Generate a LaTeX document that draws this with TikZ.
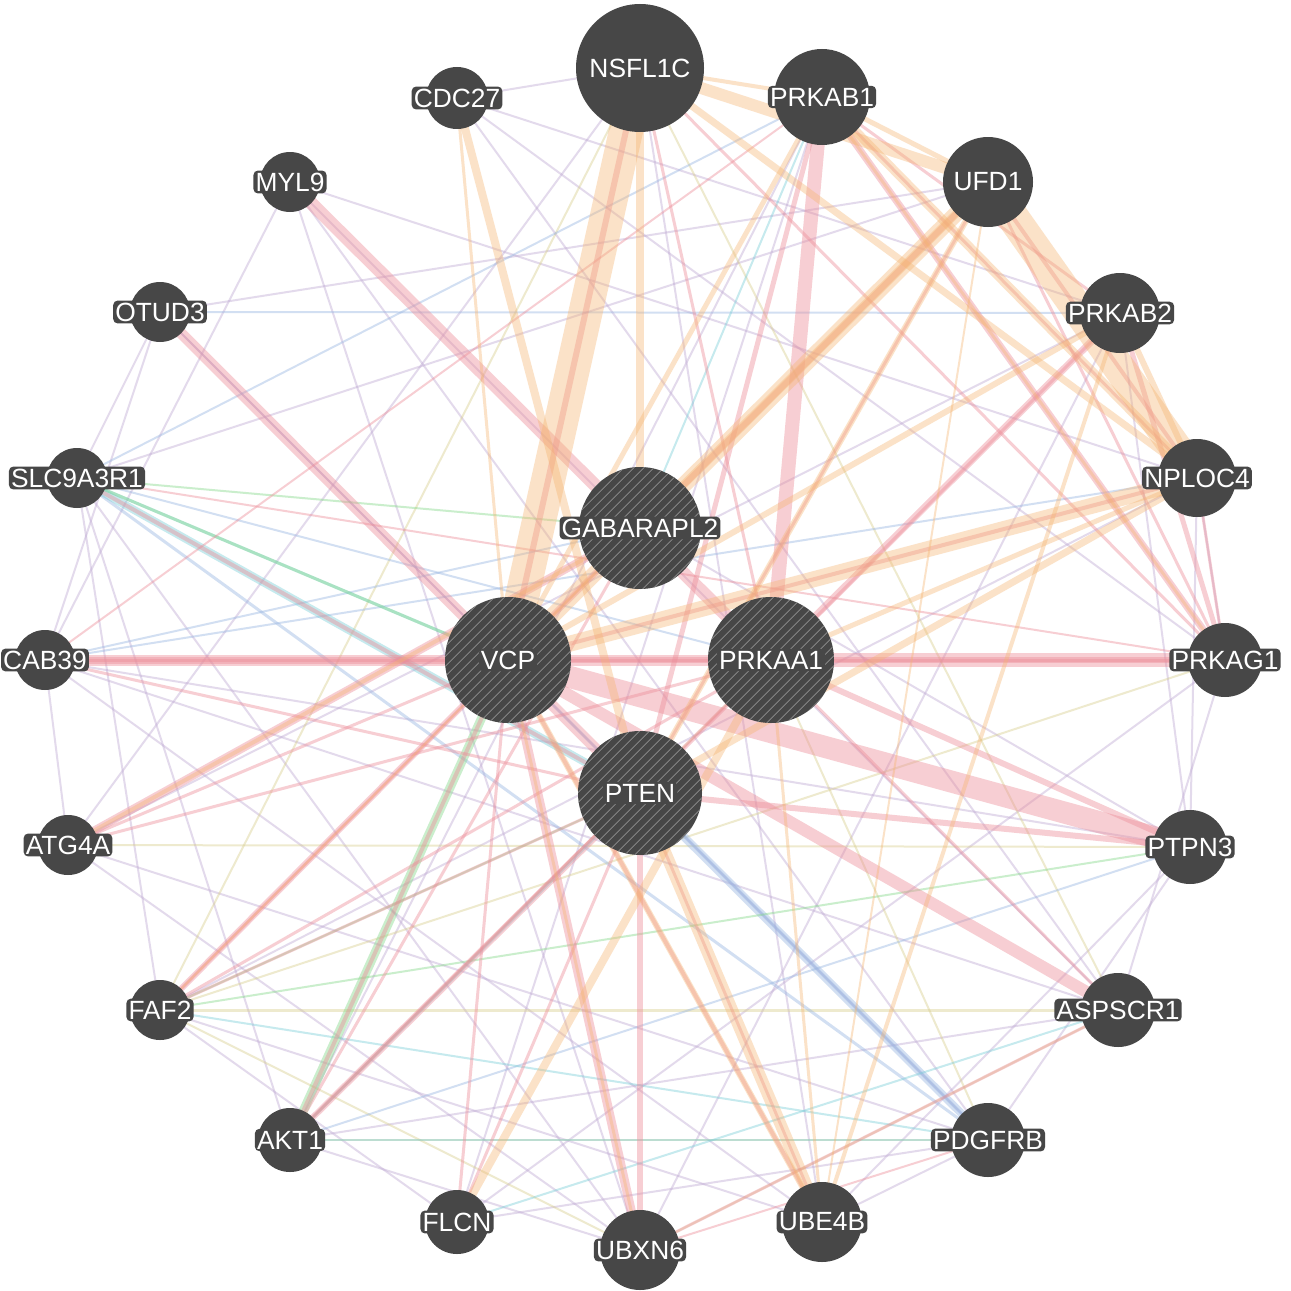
\documentclass[tikz,border=0pt]{standalone}
\usepackage{fontspec}
\setmainfont{Liberation Sans}
\usetikzlibrary{patterns.meta}
\pgfdeclarelayer{bg}
\pgfdeclarelayer{edges}
\pgfsetlayers{bg,edges,main}
\definecolor{ngray}{RGB}{71,71,71}
\definecolor{hatchc}{RGB}{125,125,125}
\definecolor{cphys}{RGB}{236,140,152}
\definecolor{cpred}{RGB}{245,180,112}
\definecolor{ccoex}{RGB}{190,168,210}
\definecolor{ccoloc}{RGB}{150,180,225}
\definecolor{cgen}{RGB}{130,215,135}
\definecolor{cpath}{RGB}{120,205,215}
\definecolor{cdom}{RGB}{215,205,140}
\begin{document}
\begin{tikzpicture}[x=0.02cm,y=-0.02cm,
  gene/.style={circle, fill=ngray, minimum size=#1*0.02cm, inner sep=0pt},
  hub/.style={gene=#1, postaction={pattern={Lines[angle=45,distance=4pt,line width=0.6pt]}, pattern color=hatchc}},
  lab/.style={text=white, fill=ngray, rounded corners=2.5pt, inner sep=1.2pt, font=\fontsize{15}{17}\selectfont},
  phys/.style={draw=cphys, line width=#1*0.02cm, draw opacity=0.42},
  pred/.style={draw=cpred, line width=#1*0.02cm, draw opacity=0.38},
  coex/.style={draw=ccoex, line width=#1*0.02cm, draw opacity=0.42},
  coloc/.style={draw=ccoloc, line width=#1*0.02cm, draw opacity=0.42},
  gen/.style={draw=cgen, line width=#1*0.02cm, draw opacity=0.42},
  path/.style={draw=cpath, line width=#1*0.02cm, draw opacity=0.42},
  dom/.style={draw=cdom, line width=#1*0.02cm, draw opacity=0.42},
]
\useasboundingbox (0,0) rectangle (1291,1291);
\begin{pgfonlayer}{bg}
\fill[white] (0,0) rectangle (1291,1291);
\end{pgfonlayer}

% nodes
\node[gene=128] (NSFL1C) at (640,68) {};
\node[gene=62]  (CDC27) at (457,98) {};
\node[gene=96]  (PRKAB1) at (822,97) {};
\node[gene=60]  (MYL9) at (290,182) {};
\node[gene=90]  (UFD1) at (988,182) {};
\node[gene=60]  (OTUD3) at (160,312) {};
\node[gene=80]  (PRKAB2) at (1120,313) {};
\node[gene=60]  (SLC9A3R1) at (77,478) {};
\node[gene=78]  (NPLOC4) at (1197,478) {};
\node[hub=122]  (GABARAPL2) at (640,528) {};
\node[hub=126]  (VCP) at (508,660) {};
\node[hub=126]  (PRKAA1) at (771,660) {};
\node[gene=60]  (CAB39) at (45,660) {};
\node[gene=74]  (PRKAG1) at (1225,660) {};
\node[hub=124]  (PTEN) at (640,793) {};
\node[gene=60]  (ATG4A) at (68,845) {};
\node[gene=74]  (PTPN3) at (1190,847) {};
\node[gene=60]  (FAF2) at (160,1010) {};
\node[gene=74]  (ASPSCR1) at (1118,1010) {};
\node[gene=64]  (AKT1) at (290,1140) {};
\node[gene=74]  (PDGFRB) at (988,1140) {};
\node[gene=64]  (FLCN) at (457,1222) {};
\node[gene=80]  (UBXN6) at (640,1250) {};
\node[gene=80]  (UBE4B) at (822,1222) {};

% labels
\foreach \n in {NSFL1C,CDC27,PRKAB1,MYL9,UFD1,OTUD3,PRKAB2,SLC9A3R1,NPLOC4,GABARAPL2,VCP,PRKAA1,CAB39,PRKAG1,PTEN,ATG4A,PTPN3,FAF2,ASPSCR1,AKT1,PDGFRB,FLCN,UBXN6,UBE4B}
  \node[lab] (lab-\n) at (\n) {\n};

\begin{pgfonlayer}{edges}
% co-expression (thin)
\foreach \a/\b/\w in {OTUD3/UFD1/2, OTUD3/SLC9A3R1/2, OTUD3/CAB39/2, CDC27/NSFL1C/2, CDC27/PRKAB2/2,
  MYL9/PDGFRB/2, MYL9/UBXN6/2, SLC9A3R1/FAF2/2, SLC9A3R1/AKT1/2, CAB39/ASPSCR1/2, CAB39/UBE4B/2,
  ATG4A/PDGFRB/2, FAF2/UBE4B/2, AKT1/ASPSCR1/2, FLCN/PRKAG1/2, FLCN/PDGFRB/2, UBXN6/PRKAB2/2,
  PTPN3/PDGFRB/2, ASPSCR1/PRKAG1/2, NPLOC4/PTPN3/2, PRKAB2/PTPN3/2, ATG4A/CAB39/2, OTUD3/VCP/2,
  MYL9/NPLOC4/2, CDC27/ASPSCR1/2, GABARAPL2/PTPN3/2, NSFL1C/ATG4A/2, SLC9A3R1/UFD1/2, MYL9/CAB39/2,
  ATG4A/UBXN6/2, FAF2/FLCN/2, AKT1/UBXN6/2, PDGFRB/UBE4B/2, PTPN3/UBE4B/2, NPLOC4/PRKAG1/2,
  CDC27/PRKAG1/2, MYL9/ASPSCR1/2, OTUD3/PDGFRB/2, SLC9A3R1/UBXN6/2, ATG4A/PRKAB2/2, FAF2/NPLOC4/2,
  AKT1/PRKAB1/2, FLCN/PRKAB1/2, UBE4B/NSFL1C/2, CAB39/PTPN3/2}
  \draw[coex=\w] (\a.center) -- (\b.center);
% shared domains
\foreach \a/\b/\w in {FAF2/ASPSCR1/3, FAF2/UBXN6/2, ASPSCR1/UBXN6/2, NSFL1C/FAF2/2, AKT1/PRKAA1/2,
  PDGFRB/PRKAA1/2, AKT1/PDGFRB/2, NSFL1C/ASPSCR1/2, FAF2/PRKAG1/2, ATG4A/PTPN3/2}
  \draw[dom=\w] (\a.center) -- (\b.center);
% co-localization
\foreach \a/\b/\w in {SLC9A3R1/PDGFRB/3, PTEN/PDGFRB/8, SLC9A3R1/PRKAA1/2, CAB39/GABARAPL2/2,
  VCP/PDGFRB/3, PRKAB1/SLC9A3R1/2, OTUD3/PRKAB2/2, CAB39/NPLOC4/2, AKT1/PTPN3/2}
  \draw[coloc=\w] (\a.center) -- (\b.center);
% pathway
\foreach \a/\b/\w in {SLC9A3R1/PTEN/8, AKT1/PDGFRB/2, AKT1/PTEN/3, PRKAB1/GABARAPL2/2, FAF2/PDGFRB/2,
  SLC9A3R1/VCP/3, FLCN/ASPSCR1/2}
  \draw[path=\w] (\a.center) -- (\b.center);
% genetic interactions
\foreach \a/\b/\w in {AKT1/VCP/9, SLC9A3R1/VCP/3, FAF2/PTEN/2, PTPN3/FAF2/2, SLC9A3R1/GABARAPL2/2}
  \draw[gen=\w] (\a.center) -- (\b.center);
% physical interactions
\foreach \a/\b/\w in {PRKAA1/PRKAB1/14, PRKAA1/PRKAG1/14, PRKAA1/PRKAB2/7, PRKAB1/PRKAG1/7,
  PRKAB2/PRKAG1/5, PRKAB1/PRKAB2/3, PRKAA1/CAB39/11, VCP/CAB39/7, CAB39/PRKAG1/3, VCP/PTPN3/22,
  PRKAA1/PTPN3/6, VCP/ASPSCR1/12, VCP/UBXN6/9, PTEN/UBXN6/6, OTUD3/PTEN/11, MYL9/PRKAA1/13,
  VCP/FAF2/6, VCP/NSFL1C/6, VCP/UFD1/6, VCP/NPLOC4/4, ATG4A/GABARAPL2/8, ATG4A/PRKAA1/3,
  PTEN/AKT1/6, AKT1/PRKAA1/3, FAF2/PRKAA1/3, FLCN/VCP/3, SLC9A3R1/PTEN/4, VCP/UBE4B/4,
  UBXN6/ASPSCR1/3, UBXN6/PDGFRB/2, PRKAG1/VCP/6, NSFL1C/PRKAG1/3, NSFL1C/PRKAA1/3,
  UFD1/NPLOC4/4, PRKAB1/PTEN/5, PRKAB2/PTEN/3, NPLOC4/PRKAG1/3, FAF2/PTEN/3, AKT1/VCP/4,
  CAB39/PTEN/3, UFD1/PRKAG1/3, PTEN/PTPN3/6, PRKAB1/NPLOC4/3, UFD1/PTEN/3, CAB39/PRKAB1/2,
  FAF2/GABARAPL2/3, AKT1/GABARAPL2/3, FLCN/PTEN/3, UBE4B/PTEN/3, ASPSCR1/PRKAA1/3,
  SLC9A3R1/PRKAG1/2, ATG4A/VCP/3}
  \draw[phys=\w] (\a.center) -- (\b.center);
% predicted
\foreach \a/\b/\w in {NSFL1C/VCP/34, NSFL1C/UFD1/12, NSFL1C/NPLOC4/7, NSFL1C/PRKAB1/4,
  UFD1/NPLOC4/32, UFD1/VCP/16, NPLOC4/VCP/16, NPLOC4/PTEN/7, PRKAB1/NPLOC4/9, PRKAB2/VCP/6,
  PRKAB1/VCP/5, CDC27/PTEN/8, PTEN/UBE4B/12, VCP/UBE4B/6, FLCN/PRKAA1/8, ATG4A/GABARAPL2/4,
  PRKAB2/UBE4B/4, UFD1/PTEN/6, PRKAB1/PRKAG1/3,
  PRKAA1/UBE4B/3, UFD1/UBE4B/2, NSFL1C/GABARAPL2/8, CDC27/VCP/3, FAF2/GABARAPL2/2,
  UFD1/GABARAPL2/8, PRKAB2/NPLOC4/6, PRKAB1/UFD1/5, NPLOC4/PRKAA1/5, UBXN6/VCP/3}
  \draw[pred=\w] (\a.center) -- (\b.center);
\end{pgfonlayer}
\end{tikzpicture}
\end{document}
